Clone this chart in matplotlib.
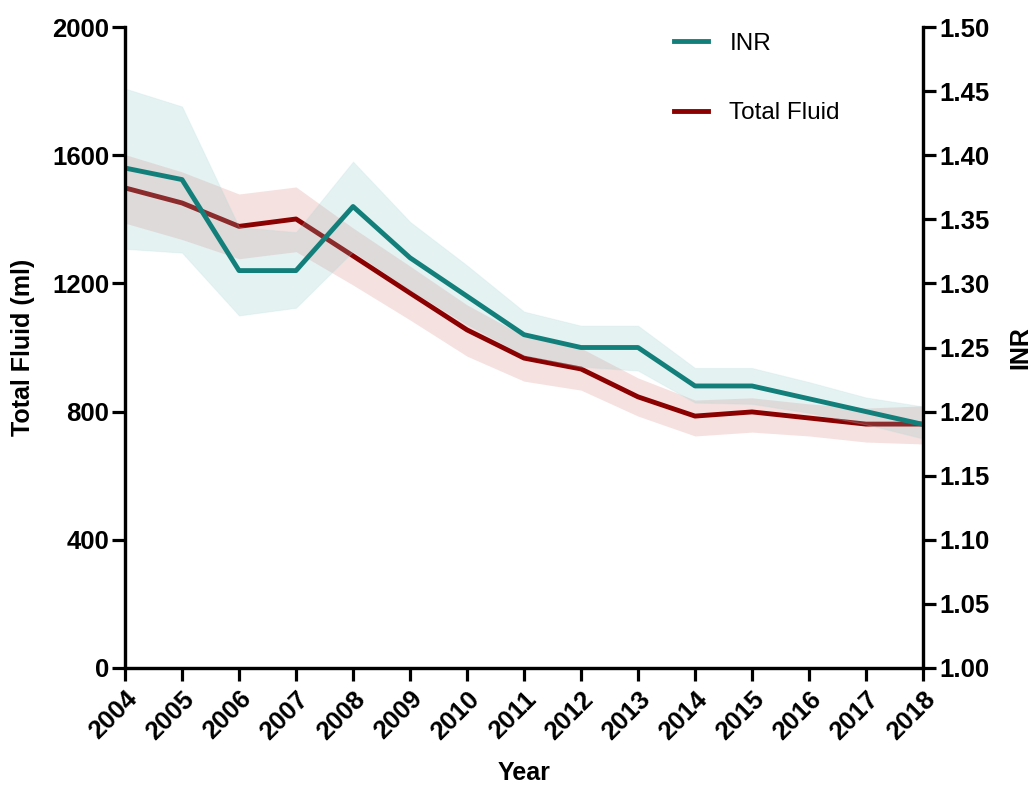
import numpy as np
import matplotlib
matplotlib.use('Agg')
from matplotlib import pyplot as plt

plt.rcParams['font.family'] = ['Liberation Sans', 'DejaVu Sans']

years = list(range(2004, 2019))

# Total Fluid (ml), left axis
fluid = [1498, 1451, 1378, 1401, 1286, 1170, 1055, 967, 933, 846, 786, 799, 780, 761, 761]
fluid_hi = [1602, 1548, 1479, 1501, 1373, 1254, 1133, 1036, 998, 905, 836, 843, 824, 811, 818]
fluid_lo = [1388, 1337, 1277, 1299, 1195, 1086, 973, 895, 867, 786, 724, 736, 724, 705, 699]

# INR, right axis
inr = [1.39, 1.381, 1.31, 1.31, 1.36, 1.32, 1.29, 1.26, 1.25, 1.25, 1.22, 1.22, 1.21, 1.20, 1.19]
inr_hi = [1.452, 1.438, 1.344, 1.34, 1.395, 1.348, 1.314, 1.278, 1.267, 1.267, 1.234, 1.234, 1.223, 1.211, 1.204]
inr_lo = [1.327, 1.324, 1.275, 1.281, 1.325, 1.295, 1.268, 1.244, 1.235, 1.232, 1.207, 1.206, 1.199, 1.19, 1.179]

teal = '#137f7b'
red = '#8b0000'

fig = plt.figure(figsize=(10.35, 7.88), dpi=100)
ax = fig.add_axes([0.1208, 0.1523, 0.7710, 0.8134])
ax2 = ax.twinx()

ax.fill_between(years, fluid_lo, fluid_hi, color='#d98a85', alpha=0.25, linewidth=0)
l2, = ax.plot(years, fluid, color=red, lw=3.5, label='Total Fluid')
ax2.fill_between(years, inr_lo, inr_hi, color='#8cc4c4', alpha=0.22, linewidth=0.8,
                 edgecolor='#b5dcdc')
l1, = ax2.plot(years, inr, color=teal, lw=3.5, label='INR')

ax.set_xlim(2004, 2018)
ax.set_ylim(0, 2000)
ax2.set_ylim(1.0, 1.5)
ax.set_yticks([0, 400, 800, 1200, 1600, 2000])
ax2.set_yticks(np.arange(1.0, 1.501, 0.05))
ax2.set_yticklabels(['%.2f' % v for v in np.arange(1.0, 1.501, 0.05)])
ax.set_xticks(years)
ax.set_xticklabels([str(y) for y in years], rotation=45, ha='right', rotation_mode='anchor')

for a in (ax, ax2):
    a.spines['top'].set_visible(False)
    for s in ('left', 'right', 'bottom'):
        a.spines[s].set_linewidth(2.3)
    a.tick_params(width=2.3, length=9.5, labelsize=18.5, pad=2)
ax.tick_params(axis='x', pad=4)
for a in (ax, ax2):
    for lab in a.get_xticklabels() + a.get_yticklabels():
        lab.set_fontweight('bold')

ax.set_xlabel('Year', fontsize=18, fontweight='bold', labelpad=12)
ax.set_ylabel('Total Fluid (ml)', fontsize=18, fontweight='bold', labelpad=12)
ax2.set_ylabel('INR', fontsize=18, fontweight='bold', labelpad=14)

ax2.legend(handles=[l1, l2], loc='upper left', bbox_to_anchor=(0.66, 1.025), frameon=False,
           fontsize=17.5, labelspacing=1.95, handlelength=1.4, handletextpad=0.9)

fig.savefig('out.png', dpi=100)
